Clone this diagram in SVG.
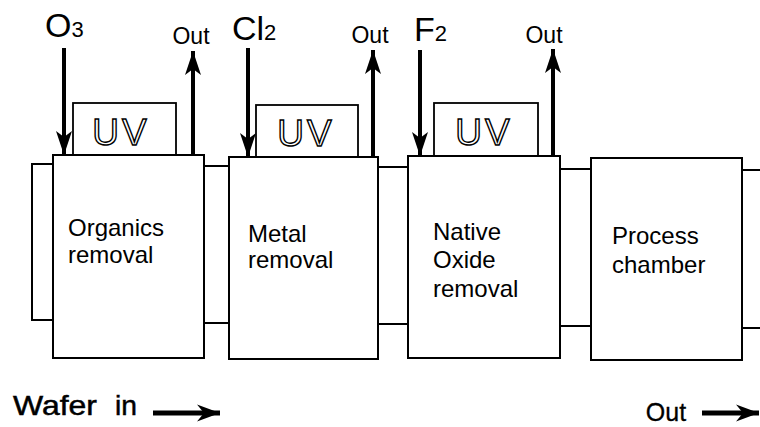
<svg xmlns="http://www.w3.org/2000/svg" width="760" height="427" viewBox="0 0 760 427">
<defs>
<style>
.box{fill:#fff;stroke:#000;stroke-width:2}
.uvbox{fill:#fff;stroke:#000;stroke-width:1.8}
.uv{font-family:"Liberation Sans",Arial,sans-serif;font-size:37px;fill:#fff;stroke:#000;stroke-width:1.4;text-anchor:middle;letter-spacing:3px}
.lbl{font-family:"Liberation Sans",Arial,sans-serif;font-size:24px;fill:#000}
.gas{font-family:"Liberation Sans",Arial,sans-serif;font-size:34px;fill:#000}
.sub{font-size:22px}
.out{font-family:"Liberation Sans",Arial,sans-serif;font-size:23px;fill:#000;text-anchor:middle}
.big{font-family:"Liberation Sans",Arial,sans-serif;font-size:28px;fill:#000;stroke:#000;stroke-width:0.5}
.pipe{fill:none;stroke:#000;stroke-width:2}
.flow{fill:none;stroke:#000;stroke-width:4}
.flowh{fill:none;stroke:#000;stroke-width:5}
</style>
<marker id="ah" markerUnits="userSpaceOnUse" markerWidth="26" markerHeight="18" viewBox="-25 -9 26 18" refX="0" refY="0" orient="auto">
<path d="M0,0 L-24,-8 L-18,0 L-24,8 Z" fill="#000"/>
</marker>
<marker id="ah2" markerUnits="userSpaceOnUse" markerWidth="26" markerHeight="20" viewBox="-25 -10 26 20" refX="0" refY="0" orient="auto">
<path d="M0,0 L-23,-8.5 L-16,0 L-23,8.5 Z" fill="#000"/>
</marker>
</defs>
<rect width="760" height="427" fill="#fff"/>

<g id="connectors">
<path class="pipe" d="M53,164 H32 V320 H53"/>
<path class="pipe" d="M204,166 H229 M204,323 H229"/>
<path class="pipe" d="M378,167 H408 M378,324 H408"/>
<path class="pipe" d="M560,169 H591 M560,326 H591"/>
<path class="pipe" d="M742,170 H760 M742,328 H760"/>
<line class="flow" x1="64" y1="48" x2="64" y2="155" marker-end="url(#ah)"/>
<line class="flow" x1="193" y1="155" x2="193" y2="51" marker-end="url(#ah)"/>
<line class="flow" x1="248" y1="48" x2="248" y2="157" marker-end="url(#ah)"/>
<line class="flow" x1="373" y1="157" x2="373" y2="50" marker-end="url(#ah)"/>
<line class="flow" x1="420" y1="50" x2="420" y2="156" marker-end="url(#ah)"/>
<line class="flow" x1="553" y1="156" x2="553" y2="49" marker-end="url(#ah)"/>
<line class="flowh" x1="153" y1="413" x2="220" y2="413" marker-end="url(#ah2)"/>
<line class="flowh" x1="702" y1="413" x2="759" y2="413" marker-end="url(#ah2)"/>
</g>

<g id="organics">
<rect class="uvbox" x="73" y="103" width="103" height="52"/>
<text class="uv" x="121" y="145">UV</text>
<rect class="box" x="53" y="155" width="151" height="203"/>
<text class="lbl" x="68" y="236">Organics</text>
<text class="lbl" x="68" y="263">removal</text>
</g>

<g id="metal">
<rect class="uvbox" x="256" y="105" width="102" height="52"/>
<text class="uv" x="306" y="146">UV</text>
<rect class="box" x="229" y="157" width="149" height="202"/>
<text class="lbl" x="248" y="242">Metal</text>
<text class="lbl" x="248" y="268">removal</text>
</g>

<g id="oxide">
<rect class="uvbox" x="434" y="103" width="104" height="53"/>
<text class="uv" x="484" y="145">UV</text>
<rect class="box" x="408" y="156" width="152" height="202"/>
<text class="lbl" x="433" y="240">Native</text>
<text class="lbl" x="433" y="268">Oxide</text>
<text class="lbl" x="433" y="297">removal</text>
</g>

<g id="process">
<rect class="box" x="591" y="158" width="151" height="202"/>
<text class="lbl" x="612" y="244">Process</text>
<text class="lbl" x="612" y="273">chamber</text>
</g>

<g id="labels">
<text class="gas" x="45" y="37">O<tspan class="sub">3</tspan></text>
<text class="gas" x="232" y="40">Cl<tspan class="sub">2</tspan></text>
<text class="gas" x="414" y="41">F<tspan class="sub">2</tspan></text>
<text class="out" x="191" y="44">Out</text>
<text class="out" x="370" y="43">Out</text>
<text class="out" x="544" y="43">Out</text>
<text class="big" x="13" y="415" textLength="84" lengthAdjust="spacingAndGlyphs">Wafer</text>
<text class="big" x="115" y="415" textLength="22" lengthAdjust="spacingAndGlyphs">in</text>
<text class="big" x="666" y="421" text-anchor="middle" style="font-size:25px;stroke-width:0.3">Out</text>
</g>
</svg>
